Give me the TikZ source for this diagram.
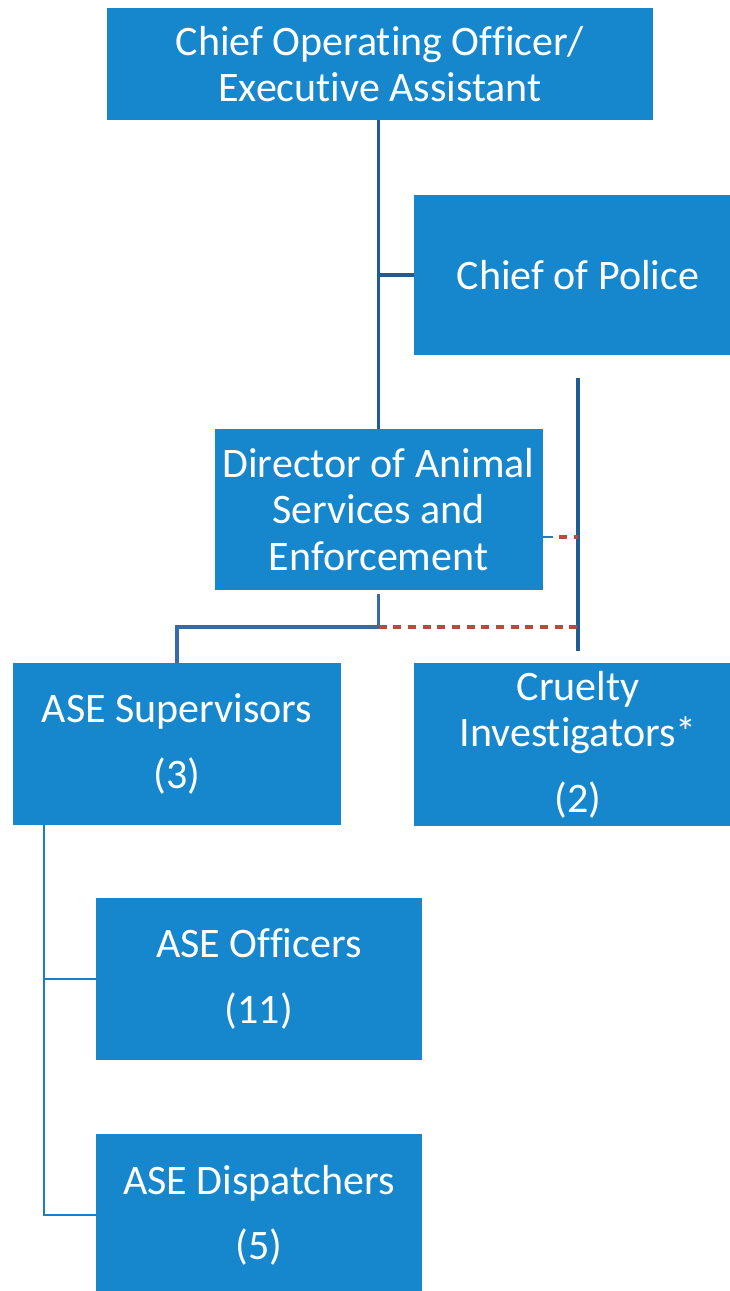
\documentclass[tikz,border=0pt]{standalone}
\usepackage{fontspec}
\setmainfont{Carlito}[RawFeature={-liga;-clig;-dlig}]
\usetikzlibrary{calc}

\definecolor{boxblue}{RGB}{23,135,205}
\definecolor{linenavy}{RGB}{31,92,148}
\definecolor{linesteel}{RGB}{52,108,168}
\definecolor{linelight}{RGB}{27,125,200}
\definecolor{dashred}{RGB}{190,72,60}

\tikzset{
  orgbox/.style={fill=boxblue, draw=none, text=white, align=center,
    minimum width=328*0.75pt, minimum height=161*0.75pt, inner sep=0pt,
    font=\fontsize{31.5}{35}\selectfont},
  mainline/.style={draw=linenavy, line width=2.6pt},
  subline/.style={draw=linesteel, line width=2.4pt},
  spineline/.style={draw=linelight, line width=2pt},
  dottedlink/.style={draw=dashred, line width=2.4pt, dash pattern=on 6pt off 5pt}
}

\begin{document}
\begin{tikzpicture}[x=0.75pt,y=0.75pt,yscale=-1,xscale=1]
\useasboundingbox (0,0) rectangle (730,1291);
\begin{scope}
\clip (0,0) rectangle (730,1291);

% Boxes
\node [orgbox, minimum width=546*0.75pt, minimum height=112*0.75pt] (coo) at (380,64) {Chief Operating Officer/\\Executive Assistant};
\node [orgbox, minimum height=160*0.75pt] (cop) at (578,275) {Chief of Police};
\node [orgbox] (dir) at (378.5,509.5) {Director of Animal\\Services and\\Enforcement};
\node [orgbox, minimum height=162*0.75pt] (sup) at (177,744) {ASE Supervisors\\[14pt](3)};
\node [orgbox, minimum height=163*0.75pt] (cru) at (578,744.5) {Cruelty\\Investigators*\\[14pt](2)};
\node [orgbox, minimum width=326*0.75pt, minimum height=162*0.75pt] (off) at (259,979) {ASE Officers\\[14pt](11)};
\node [orgbox, minimum width=326*0.75pt, minimum height=162*0.75pt] (dis) at (259,1215) {ASE Dispatchers\\[14pt](5)};

% Join points
\coordinate (dirjoin) at (378.5,627);
\coordinate (copjoin) at (578,627);
\coordinate (coptop) at (578,378);
\coordinate (copend) at (578,651);
\coordinate (dirside) at (543,537);
\coordinate (supspine) at (44,825);

% Connectors
\draw [mainline] (coo.south -| dir.north) -- (dir.north);
\draw [mainline] (dir.north |- cop.west) -- (cop.west);
\draw [mainline] (coptop) -- (copend);
\draw [subline] (378.5,594) -- (dirjoin) -| (sup.north);
\draw [dottedlink] (dirjoin) -- (copjoin);
\draw [linelight, line width=2pt] (dirside) -- ++(10,0);
\draw [dottedlink] ($(dirside)+(16,0)$) -- (dirside -| copjoin);
\draw [spineline] (supspine) |- (dis.west);
\draw [spineline] (supspine |- off.west) -- (off.west);
\end{scope}
\end{tikzpicture}
\end{document}
